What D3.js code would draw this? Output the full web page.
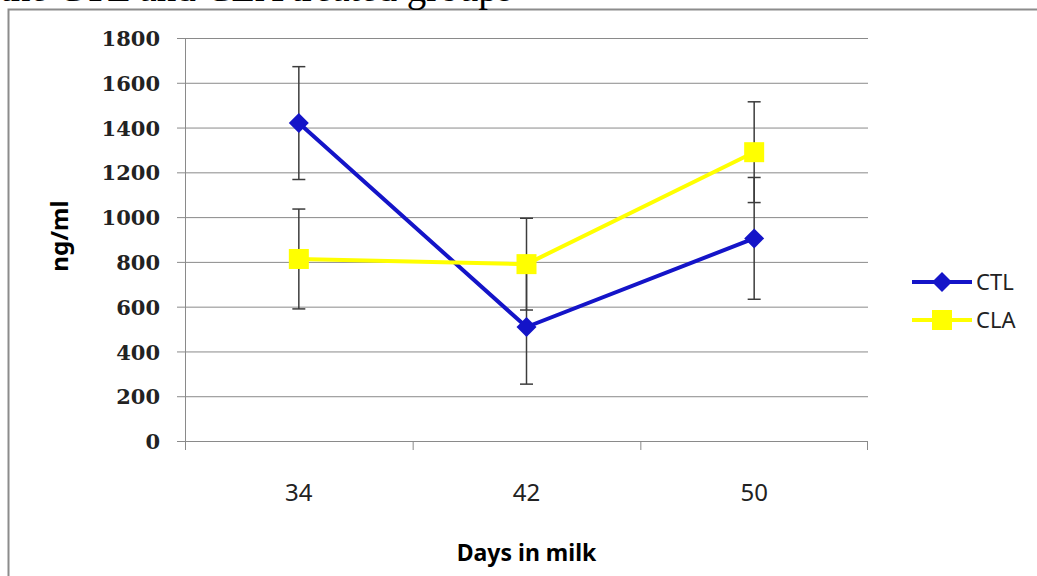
<!DOCTYPE html>
<html>
<head>
<meta charset="utf-8">
<script src="https://cdn.jsdelivr.net/npm/d3@7"></script>
<style>
  body { margin: 0; background: #fff; }
  svg { display: block; }
</style>
</head>
<body>
<div id="chart"></div>
<script>
// data
var days = ["34", "42", "50"];
var ctlMean = [1420, 509, 905];
var ctlErr = [252, 255, 272];
var claMean = [813, 790, 1290];
var claErr = [223, 205, 225];
var yTicks = [0, 200, 400, 600, 800, 1000, 1200, 1400, 1600, 1800];

var W = 1037, H = 576;
var plotL = 185, plotR = 868, plotT = 38, plotB = 441;

var svg = d3.select("#chart").append("svg")
    .attr("width", W)
    .attr("height", H);

// chart frame
svg.append("rect")
    .attr("x", 8.5)
    .attr("y", 9.5)
    .attr("width", W + 10)
    .attr("height", H + 10)
    .attr("fill", "#fff")
    .attr("stroke", "#8c8c8c")
    .attr("stroke-width", 2);

// caption line cut off at the top of the page
svg.append("text")
    .attr("x", 0)
    .attr("y", 1)
    .style("font-family", "'Liberation Serif', serif")
    .style("font-size", "39px")
    .text("the CTL and CLA treated groups");

var x = d3.scaleBand().domain(days).range([plotL, plotR]);
var y = d3.scaleLinear().domain([0, 1800]).range([plotB, plotT]);

// horizontal gridlines
svg.append("g")
    .attr("transform", "translate(" + plotL + ",0)")
    .call(d3.axisLeft(y).tickValues(yTicks).tickSize(-(plotR - plotL)).tickFormat(""))
    .call(function(g) {
        g.select(".domain").remove();
        g.selectAll(".tick line").attr("stroke", "#8a8a8a").attr("stroke-width", 1);
    });

// y axis
svg.append("g")
    .attr("transform", "translate(" + plotL + ",0)")
    .call(d3.axisLeft(y).tickValues(yTicks).tickFormat(d3.format("d"))
        .tickSize(8).tickPadding(17).tickSizeOuter(0))
    .call(function(g) {
        g.select(".domain").attr("stroke", "#8a8a8a").attr("d", "M0.5," + plotT + "V" + (plotB + 9));
        g.selectAll(".tick line").attr("stroke", "#8a8a8a");
        g.selectAll(".tick text")
            .attr("dy", "0.36em")
            .style("font-family", "'DejaVu Serif', serif")
            .style("font-weight", "bold")
            .style("font-size", "21px")
            .attr("fill", "#222");
    });

// x axis
var xAxis = svg.append("g")
    .attr("transform", "translate(0," + plotB + ")");
xAxis.append("line")
    .attr("x1", plotL).attr("x2", plotR)
    .attr("y1", 0.5).attr("y2", 0.5)
    .attr("stroke", "#8a8a8a");
xAxis.selectAll(".sep")
    .data(days.concat(["end"]))
    .enter().append("line")
    .attr("x1", function(d, i) { return i < days.length ? x(d) + 0.5 : plotR - 0.5; })
    .attr("x2", function(d, i) { return i < days.length ? x(d) + 0.5 : plotR - 0.5; })
    .attr("y1", 0).attr("y2", 9)
    .attr("stroke", "#8a8a8a");
xAxis.selectAll(".lbl")
    .data(days)
    .enter().append("text")
    .attr("x", function(d) { return x(d) + x.bandwidth() / 2; })
    .attr("y", 60)
    .attr("text-anchor", "middle")
    .style("font-family", "'Noto Sans', sans-serif")
    .style("font-size", "24px")
    .attr("fill", "#222")
    .text(function(d) { return d; });

// axis titles
svg.append("text")
    .attr("x", (plotL + plotR) / 2)
    .attr("y", 561)
    .attr("text-anchor", "middle")
    .style("font-family", "'Noto Sans', sans-serif")
    .style("font-weight", "bold")
    .style("font-size", "23px")
    .text("Days in milk");

svg.append("text")
    .attr("transform", "translate(68,236) rotate(-90)")
    .attr("text-anchor", "middle")
    .style("font-family", "'Noto Sans', sans-serif")
    .style("font-weight", "bold")
    .style("font-size", "24px")
    .text("ng/ml");

var cx = function(d, i) { return x(days[i]) + x.bandwidth() / 2; };

var series = [
    { name: "CTL", mean: ctlMean, err: ctlErr, color: "#1414c8", shape: "diamond" },
    { name: "CLA", mean: claMean, err: claErr, color: "#ffff00", shape: "square" }
];

var line = d3.line()
    .x(function(d, i) { return cx(d, i); })
    .y(function(d) { return y(d); });

function marker(g, shape, color, px, py) {
    if (shape == "diamond") {
        g.append("path")
            .attr("d", "M" + px + "," + (py - 10) + "L" + (px + 10) + "," + py +
                "L" + px + "," + (py + 10) + "L" + (px - 10) + "," + py + "Z")
            .attr("fill", color);
    } else {
        g.append("rect")
            .attr("x", px - 10).attr("y", py - 10)
            .attr("width", 20).attr("height", 20)
            .attr("fill", color);
    }
}

series.forEach(function(s) {
    var g = svg.append("g");
    g.append("path")
        .datum(s.mean)
        .attr("d", line)
        .attr("fill", "none")
        .attr("stroke", s.color)
        .attr("stroke-width", 4);

    // error bars
    s.mean.forEach(function(m, i) {
        var px = cx(m, i);
        var hi = y(m + s.err[i]), lo = y(m - s.err[i]);
        g.append("line").attr("x1", px).attr("x2", px).attr("y1", hi).attr("y2", lo)
            .attr("stroke", "#3c3c3c").attr("stroke-width", 1.5);
        [hi, lo].forEach(function(v) {
            g.append("line").attr("x1", px - 6.5).attr("x2", px + 6.5).attr("y1", v).attr("y2", v)
                .attr("stroke", "#3c3c3c").attr("stroke-width", 1.5);
        });
    });

    s.mean.forEach(function(m, i) {
        marker(g, s.shape, s.color, cx(m, i), y(m));
    });
});

// legend
series.forEach(function(s, i) {
    var ly = 282 + i * 38;
    var lg = svg.append("g");
    lg.append("line")
        .attr("x1", 912).attr("x2", 972)
        .attr("y1", ly).attr("y2", ly)
        .attr("stroke", s.color)
        .attr("stroke-width", 4);
    marker(lg, s.shape, s.color, 942, ly);
    lg.append("text")
        .attr("x", 976)
        .attr("y", ly)
        .attr("dy", "0.35em")
        .style("font-family", "'Noto Sans', sans-serif")
        .style("font-size", "22px")
        .attr("fill", "#222")
        .text(s.name);
});
</script>
</body>
</html>
